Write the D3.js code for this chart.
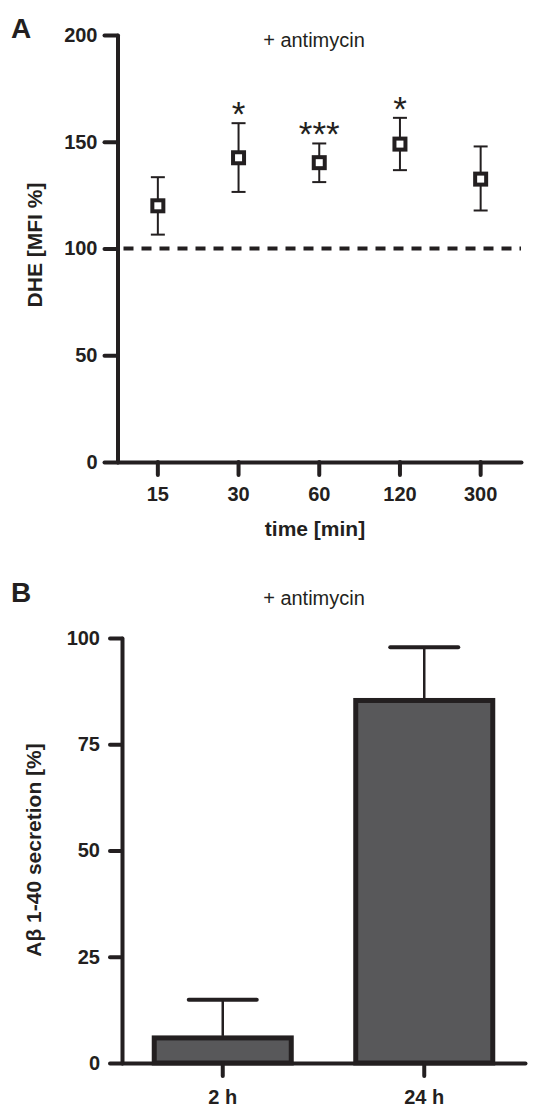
<!DOCTYPE html>
<meta charset="utf-8">
<style>
    body { margin: 0; background: #fff; }
    svg { display: block; }
    text { fill: #231f20; font-family: "Liberation Sans", Arial, Helvetica, sans-serif; }
    .axis path, .axis line { stroke: #231f20; stroke-width: 4; stroke-linecap: round; }
    .axis text { font-size: 20px; font-weight: bold; }
    .lbl { font-size: 21px; font-weight: bold; }
    .panel { font-size: 28px; font-weight: bold; }
    .note { font-size: 20px; }
    .star { font-size: 35px; }
</style>
<script src="https://d3js.org/d3.v7.min.js"></script>
<svg width="552" height="1108"></svg>
<script>
    // panel A: DHE over time
    let timeCats = ["15", "30", "60", "120", "300"];
    let dheMean = [120, 142.5, 140.2, 148.9, 132.5];
    let dheLow = [106.5, 126.5, 131.1, 136.7, 117.8];
    let dheHigh = [133.4, 158.7, 149.2, 161.2, 147.8];
    let dheStars = ["", "*", "***", "*", ""];
    let dheTicks = [0, 50, 100, 150, 200];

    // panel B: Abeta secretion
    let abCats = ["2 h", "24 h"];
    let abMean = [5.9, 85.3];
    let abErr = [9.0, 12.5];
    let abTicks = [0, 25, 50, 75, 100];

    let svg = d3.select("svg");
    let ink = "#231f20";

    // ---------- A ----------
    let xA = d3.scaleBand().domain(timeCats).range([117.5, 521]).padding(0);
    let yA = d3.scaleLinear().domain([0, 200]).range([462, 35]);

    let gA = svg.append("g");

    gA.append("g").attr("class", "axis")
        .attr("transform", "translate(0," + yA(0) + ")")
        .call(d3.axisBottom(xA).tickSize(13).tickSizeOuter(0).tickPadding(12))
        .selectAll("text").attr("dy", "0.71em");

    gA.append("g").attr("class", "axis")
        .attr("transform", "translate(" + xA.range()[0] + ",0)")
        .call(d3.axisLeft(yA).tickValues(dheTicks).tickSize(13).tickSizeOuter(0).tickPadding(7));

    gA.append("line")
        .attr("x1", xA.range()[0] + 6).attr("x2", xA.range()[1])
        .attr("y1", yA(100)).attr("y2", yA(100))
        .attr("stroke", ink).attr("stroke-width", 4)
        .attr("stroke-dasharray", "10,8");

    let pts = gA.selectAll(".pt")
        .data(timeCats.map(function(c, i) {
            return {cat: c, m: dheMean[i], lo: dheLow[i], hi: dheHigh[i], star: dheStars[i]};
        }))
        .enter().append("g")
        .attr("transform", function(d) { return "translate(" + (xA(d.cat) + xA.bandwidth() / 2) + ",0)"; });

    pts.append("line")
        .attr("y1", function(d) { return yA(d.lo); })
        .attr("y2", function(d) { return yA(d.hi); })
        .attr("stroke", ink).attr("stroke-width", 2);
    pts.selectAll(".cap")
        .data(function(d) { return [d.lo, d.hi]; })
        .enter().append("line")
        .attr("x1", -7).attr("x2", 7)
        .attr("y1", function(v) { return yA(v); })
        .attr("y2", function(v) { return yA(v); })
        .attr("stroke", ink).attr("stroke-width", 2);
    pts.append("rect")
        .attr("x", -5.5).attr("width", 11).attr("height", 11)
        .attr("y", function(d) { return yA(d.m) - 5.5; })
        .attr("fill", "#fff").attr("stroke", ink).attr("stroke-width", 4);
    pts.append("text")
        .attr("class", "star")
        .attr("text-anchor", "middle")
        .attr("y", function(d) { return yA(d.hi) + 3; })
        .text(function(d) { return d.star; });

    gA.append("text").attr("class", "panel").attr("x", 11).attr("y", 38).text("A");
    gA.append("text").attr("class", "note").attr("text-anchor", "middle")
        .attr("x", 314).attr("y", 47).text("+ antimycin");
    gA.append("text").attr("class", "lbl").attr("text-anchor", "middle")
        .attr("transform", "translate(41.5,245) rotate(-90)").text("DHE [MFI %]");
    gA.append("text").attr("class", "lbl").attr("text-anchor", "middle")
        .attr("x", 315).attr("y", 536).text("time [min]");

    // ---------- B ----------
    let xB = d3.scaleBand().domain(abCats).range([122, 525]).paddingInner(0.32).paddingOuter(0.16);
    let yB = d3.scaleLinear().domain([0, 100]).range([1063, 638]);

    let gB = svg.append("g");

    gB.selectAll(".bar")
        .data(abCats)
        .enter().append("rect")
        .attr("x", function(d) { return xB(d); })
        .attr("width", xB.bandwidth())
        .attr("y", function(d, i) { return yB(abMean[i]); })
        .attr("height", function(d, i) { return yB(0) - yB(abMean[i]); })
        .attr("fill", "#58585a").attr("stroke", ink).attr("stroke-width", 5);

    let eb = gB.selectAll(".eb")
        .data(abCats)
        .enter().append("g")
        .attr("transform", function(d) { return "translate(" + (xB(d) + xB.bandwidth() / 2) + ",0)"; });
    eb.append("line")
        .attr("y1", function(d, i) { return yB(abMean[i]) - 2; })
        .attr("y2", function(d, i) { return yB(abMean[i] + abErr[i]); })
        .attr("stroke", ink).attr("stroke-width", 2.5);
    eb.append("line")
        .attr("x1", -34).attr("x2", 34)
        .attr("y1", function(d, i) { return yB(abMean[i] + abErr[i]); })
        .attr("y2", function(d, i) { return yB(abMean[i] + abErr[i]); })
        .attr("stroke", ink).attr("stroke-width", 4).attr("stroke-linecap", "round");

    gB.append("g").attr("class", "axis")
        .attr("transform", "translate(0," + yB(0) + ")")
        .call(d3.axisBottom(xB).tickSize(13).tickSizeOuter(0).tickPadding(14))
        .selectAll("text").attr("dy", "0.71em");

    gB.append("g").attr("class", "axis")
        .attr("transform", "translate(122,0)")
        .call(d3.axisLeft(yB).tickValues(abTicks).tickSize(12).tickSizeOuter(0).tickPadding(10));

    gB.append("text").attr("class", "panel").attr("x", 11).attr("y", 602).text("B");
    gB.append("text").attr("class", "note").attr("text-anchor", "middle")
        .attr("x", 314).attr("y", 605).text("+ antimycin");
    gB.append("text").attr("class", "lbl").attr("text-anchor", "middle")
        .attr("transform", "translate(41,850) rotate(-90)").text("Aβ 1-40 secretion [%]");
</script>
